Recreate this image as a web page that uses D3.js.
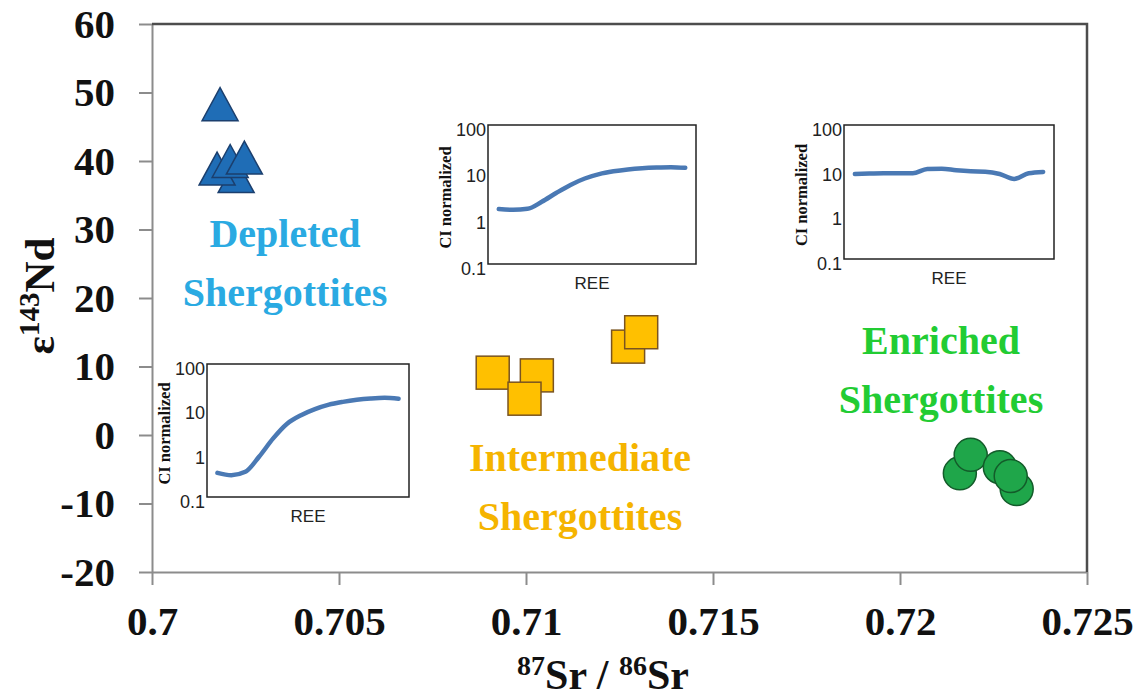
<!DOCTYPE html>
<html>
<head>
<meta charset="utf-8">
<script src="https://cdn.jsdelivr.net/npm/d3@7"></script>
<style>
	body { margin: 0; background: #fff; }
	svg { display: block; }
</style>
</head>
<body>
<svg id="chart"></svg>
<script>
'use strict';

// main plot: 87Sr/86Sr vs eps143Nd
var xTicks = [0.7, 0.705, 0.71, 0.715, 0.72, 0.725]
var xTickLabels = ['0.7', '0.705', '0.71', '0.715', '0.72', '0.725']
var yTicks = [-20, -10, 0, 10, 20, 30, 40, 50, 60]

var depletedSr = [0.70182, 0.70225, 0.70174, 0.70209, 0.70247]
var depletedNd = [48.3, 37.8, 38.9, 40.0, 40.5]
var intermediateSr = [0.70911, 0.71029, 0.70996, 0.71273, 0.71308]
var intermediateNd = [9.1, 8.7, 5.3, 12.9, 15.0]
var enrichedSr = [0.72160, 0.72189, 0.72267, 0.72312, 0.72296]
var enrichedNd = [-5.6, -2.9, -4.7, -7.9, -6.0]

// insets: CI normalized REE patterns
var reeElements = ['La', 'Ce', 'Pr', 'Nd', 'Sm', 'Eu', 'Gd', 'Tb', 'Dy', 'Ho', 'Er', 'Tm', 'Yb', 'Lu']
var reeTicks = [0.1, 1, 10, 100]
var depletedREE = [0.35, 0.31, 0.37, 0.82, 2.1, 4.5, 7.0, 9.6, 12.1, 14.0, 15.6, 16.7, 17.3, 16.5]
var intermediateREE = [1.53, 1.48, 1.55, 2.2, 3.4, 5.1, 7.0, 8.7, 10.0, 11.0, 11.7, 12.1, 12.3, 11.9]
var enrichedREE = [8.0, 8.2, 8.3, 8.3, 8.3, 10.4, 10.5, 9.7, 9.2, 9.0, 8.0, 6.2, 8.3, 8.9]

var width = 1145, height = 700
var pLeft = 152, pRight = 1087, pTop = 24, pBottom = 572
var serif = '"Liberation Serif", "Times New Roman", serif'
var sans = '"Liberation Sans", Arial, sans-serif'

var svg = d3.select('#chart').attr('width', width).attr('height', height)

var x = d3.scaleLinear().domain([0.7, 0.725]).range([pLeft, pRight])
var y = d3.scaleLinear().domain([-20, 60]).range([pBottom, pTop])

// axes
var xAxis = d3.axisBottom(x).tickValues(xTicks).tickSize(13).tickSizeOuter(0).tickPadding(21)
	.tickFormat(function(d, i) { return xTickLabels[i] })
var yAxis = d3.axisLeft(y).tickValues(yTicks).tickSize(13).tickSizeOuter(0).tickPadding(24)
	.tickFormat(function(d) { return String(d) })  // plain hyphen, not the unicode minus

var gx = svg.append('g').attr('transform', 'translate(0,' + pBottom + ')').call(xAxis)
var gy = svg.append('g').attr('transform', 'translate(' + pLeft + ',0)').call(yAxis)

svg.selectAll('.domain, .tick line').attr('stroke', '#8c8c8c').attr('stroke-width', 2)
svg.selectAll('.tick text').attr('fill', '#111').style('font-family', serif)
	.style('font-size', '41px').style('font-weight', 'bold')
gy.selectAll('.tick text').attr('dy', '0.32em')

// top and right border
svg.append('path').attr('d', 'M' + pLeft + ',' + pTop + 'H' + pRight + 'V' + pBottom)
	.attr('fill', 'none').attr('stroke', '#4d4d4d').attr('stroke-width', 2.5)

// axis titles (superscripts shifted in px so the baseline comes back)
var ylab = svg.append('text').attr('transform', 'translate(54,296) rotate(-90)')
	.attr('text-anchor', 'middle').style('font-family', serif).style('font-weight', 'bold')
	.style('font-size', '43px').attr('fill', '#111')
ylab.append('tspan').text('ε')
ylab.append('tspan').attr('dy', -15).style('font-size', '29px').text('143')
ylab.append('tspan').attr('dy', 15).text('Nd')

var xlab = svg.append('text').attr('x', 603).attr('y', 689)
	.attr('text-anchor', 'middle').style('font-family', serif).style('font-weight', 'bold')
	.style('font-size', '42px').attr('fill', '#111')
xlab.append('tspan').attr('dy', -14).style('font-size', '28px').text('87')
xlab.append('tspan').attr('dy', 14).text('Sr / ')
xlab.append('tspan').attr('dy', -14).style('font-size', '28px').text('86')
xlab.append('tspan').attr('dy', 14).text('Sr')

// group labels
function groupLabel(lines, cx, y0, color) {
	lines.forEach(function(t, i) {
		svg.append('text').attr('x', cx).attr('y', y0 + i * 59).attr('text-anchor', 'middle')
			.style('font-family', serif).style('font-weight', 'bold').style('font-size', '40px')
			.attr('fill', color).text(t)
	})
}
groupLabel(['Depleted', 'Shergottites'], 285, 247, '#2aaae2')
groupLabel(['Intermediate', 'Shergottites'], 580, 471, '#f5b400')
groupLabel(['Enriched', 'Shergottites'], 941, 354, '#22cc33')

// inset REE plots
function inset(x0, y0, w, h, values) {
	var g = svg.append('g').attr('transform', 'translate(' + x0 + ',' + y0 + ')')
	var ix = d3.scalePoint().domain(reeElements).range([0, w]).padding(0.75)
	var iy = d3.scaleLog().domain([0.1, 100]).range([h, 0])

	g.append('rect').attr('width', w).attr('height', h).attr('fill', '#fff')
		.attr('stroke', '#222').attr('stroke-width', 1.5)

	g.selectAll('.rt').data(reeTicks).enter().append('text')
		.attr('x', -2).attr('y', function(d) { return iy(d) }).attr('dy', '0.62em')
		.attr('text-anchor', 'end').style('font-family', sans).style('font-size', '18px')
		.attr('fill', '#222').text(function(d) { return d })

	g.append('text').attr('transform', 'translate(-37,' + (h / 2 + 3) + ') rotate(-90)')
		.attr('text-anchor', 'middle').style('font-family', serif).style('font-weight', 'bold')
		.style('font-size', '16.5px').attr('fill', '#111').text('CI normalized')

	g.append('text').attr('x', w / 2).attr('y', h + 25).attr('text-anchor', 'middle')
		.style('font-family', sans).style('font-size', '17px').attr('fill', '#222').text('REE')

	var line = d3.line().curve(d3.curveMonotoneX)
		.x(function(d, i) { return ix(reeElements[i]) })
		.y(function(d) { return iy(d) })
	g.append('path').datum(values).attr('d', line).attr('fill', 'none')
		.attr('stroke', '#4a79b4').attr('stroke-width', 4.5).attr('stroke-linecap', 'round')
}
inset(488, 125, 208, 139, intermediateREE)
inset(844, 125, 210, 134, enrichedREE)
inset(207, 364, 202, 133, depletedREE)

// markers
function pts(xs, ys) {
	return xs.map(function(v, i) { return [v, ys[i]] })
}
var tri = 'M0,-16.5L18,16.5L-18,16.5Z'
svg.selectAll('.tri').data(pts(depletedSr, depletedNd)).enter().append('path')
	.attr('d', tri).attr('transform', function(d) { return 'translate(' + x(d[0]) + ',' + y(d[1]) + ')' })
	.attr('fill', '#1f6db6').attr('stroke', '#1b3f6e').attr('stroke-width', 1.5)

var sq = 33
svg.selectAll('.sq').data(pts(intermediateSr, intermediateNd)).enter().append('rect')
	.attr('x', function(d) { return x(d[0]) - sq / 2 }).attr('y', function(d) { return y(d[1]) - sq / 2 })
	.attr('width', sq).attr('height', sq)
	.attr('fill', '#ffc000').attr('stroke', '#7a5420').attr('stroke-width', 1.5)

svg.selectAll('.ci').data(pts(enrichedSr, enrichedNd)).enter().append('circle')
	.attr('cx', function(d) { return x(d[0]) }).attr('cy', function(d) { return y(d[1]) }).attr('r', 16.5)
	.attr('fill', '#1fa64a').attr('stroke', '#135c2a').attr('stroke-width', 1.5)
</script>
</body>
</html>
